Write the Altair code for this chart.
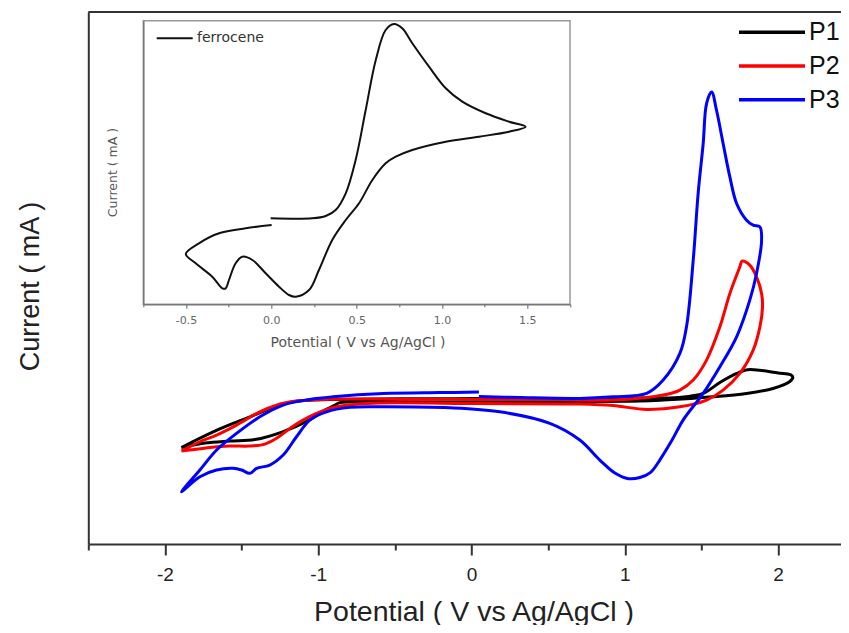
import altair as alt
import pandas as pd

# ---------------- data ----------------
series_names = ["P1", "P2", "P3"]
series_colors = ["#000000", "#ff0000", "#0000ff"]

p1_potential = [-1.893, -1.675, -1.446, -1.272, -1.164, -0.924, -0.468, 0.054, 0.576, 1.098, 1.35, 1.51, 1.62, 1.73,
                1.80, 1.88, 2.00, 2.08, 2.096, 2.074, 1.967, 1.794, 1.576, 1.250, 1.098, 0.576, 0.054, -0.468, -0.859,
                -0.885, -0.977, -1.060, -1.237, -1.413, -1.577, -1.740, -1.893]
p1_current = [-8.92, -5.82, -3.14, -1.13, -0.32, 0.09, 0.24, 0.28, 0.28, 0.38, 0.5, 1.26, 3.3, 5.0,
              5.7, 5.6, 5.1, 4.8, 4.3, 3.44, 2.19, 1.25, 0.62, 0.0, -0.19, -0.28, -0.38, -0.38, -0.47,
              -0.85, -2.25, -3.76, -6.01, -7.42, -7.70, -8.08, -8.92]

p2_potential = [-1.892, -1.772, -1.663, -1.533, -1.381, -1.272, -1.142, -0.968, -0.577, 0.054, 0.576, 0.924, 1.250,
                1.359, 1.446, 1.533, 1.620, 1.685, 1.750, 1.765, 1.815, 1.859, 1.892, 1.898, 1.881, 1.837, 1.750,
                1.641, 1.533, 1.359, 1.142, 0.924, 0.706, 0.054, -0.685, -0.881, -1.011, -1.099, -1.185, -1.272,
                -1.348, -1.446, -1.577, -1.707, -1.838, -1.892]
p2_current = [-9.58, -7.83, -6.58, -4.70, -2.20, -0.94, -0.19, 0.13, 0.19, 0.09, 0.09, 0.0, 0.94,
              1.88, 3.76, 7.51, 13.77, 20.05, 25.04, 26.11, 25.36, 23.16, 20.05, 17.53, 13.77, 9.39, 5.02,
              1.88, 0.0, -1.26, -1.75, -1.03, -0.75, -0.66, -0.62, -1.26, -2.50, -3.76, -5.32, -7.19,
              -8.27, -8.64, -8.64, -8.89, -9.39, -9.58]

p3_potential = [0.048, 0.315, 0.706, 0.924, 1.142, 1.250, 1.359, 1.402, 1.446, 1.478, 1.511, 1.533, 1.566, 1.598,
                1.641, 1.685, 1.729, 1.794, 1.837, 1.881, 1.892, 1.859, 1.815, 1.729, 1.620, 1.511, 1.380, 1.307,
                1.228, 1.166, 1.098, 1.024, 0.935, 0.837, 0.706, 0.511, 0.184, -0.142, -0.577, -0.794, -0.946,
                -1.055, -1.142, -1.229, -1.316, -1.402, -1.446, -1.500, -1.555, -1.663, -1.772, -1.892, -1.772,
                -1.663, -1.533, -1.381, -1.229, -1.055, -0.903, -0.577, -0.207, 0.048]
p3_current = [0.66, 0.47, 0.32, 0.62, 1.26, 3.76, 8.77, 13.77, 26.30, 38.83, 48.23, 55.74, 57.92, 54.48,
              48.23, 41.95, 36.95, 33.82, 32.88, 32.56, 30.06, 23.80, 18.79, 11.90, 6.26, 1.26, -3.76, -7.57,
              -11.27, -13.64, -14.56, -14.77, -13.71, -11.27, -7.51, -4.38, -2.20, -1.45, -1.26, -1.37, -2.20,
              -3.76, -6.89, -10.33, -12.21, -12.83, -13.77, -13.15, -12.83, -13.15, -14.41, -17.24, -13.15,
              -9.39, -6.26, -3.14, -0.94, 0.13, 0.62, 1.22, 1.41, 1.50]

fc_potential = [-0.004, 0.240, 0.319, 0.377, 0.436, 0.494, 0.553, 0.612, 0.670, 0.719, 0.767, 0.826, 0.924, 1.022,
                1.119, 1.256, 1.393, 1.490, 1.393, 1.217, 1.022, 0.826, 0.729, 0.670, 0.592, 0.514, 0.436, 0.357,
                0.279, 0.221, 0.143, 0.104, 0.045, -0.033, -0.111, -0.170, -0.209, -0.248, -0.267, -0.287, -0.346,
                -0.443, -0.501, -0.424, -0.306, -0.150, 0.002]
fc_current = [30.32, 30.32, 31.14, 33.25, 39.14, 50.88, 68.51, 86.14, 96.72, 98.84, 97.32, 92.03, 83.78, 76.16,
              71.44, 67.35, 64.39, 62.62, 60.86, 59.10, 57.33, 54.41, 52.05, 49.72, 43.83, 35.61, 29.72, 22.67,
              12.09, 5.04, 2.68, 3.28, 6.21, 10.93, 15.62, 16.78, 14.46, 8.57, 5.64, 5.64, 9.73, 14.46, 17.74,
              21.51, 25.04, 26.80, 27.96]

main_x_domain = [-2.5, 2.41]
main_y_domain = [-27.05, 72.95]
main_x_ticks = [-2.5, -2.0, -1.5, -1.0, -0.5, 0.0, 0.5, 1.0, 1.5, 2.0]
inset_x_domain = [-0.75, 1.75]
inset_y_domain = [0, 100]
inset_x_ticks = [-0.75, -0.5, -0.25, 0.0, 0.25, 0.5, 0.75, 1.0, 1.25, 1.5, 1.75]

# ---------------- tables ----------------
rows = []
for name, xs, ys in zip(series_names, [p1_potential, p2_potential, p3_potential],
                        [p1_current, p2_current, p3_current]):
    for i, (xv, yv) in enumerate(zip(xs, ys)):
        rows.append({"series": name, "potential": xv, "current": yv, "idx": i})
main_df = pd.DataFrame(rows)

inset_df = pd.DataFrame({"name": "ferrocene", "potential": fc_potential, "current": fc_current,
                         "idx": list(range(len(fc_potential)))})
frame_df = pd.DataFrame({"k": [0]})

MAIN_FONT = "Liberation Sans"
INSET_FONT = "DejaVu Sans"

# ---------------- main plot ----------------
main_x = alt.X("potential:Q",
               scale=alt.Scale(domain=main_x_domain, nice=False, zero=False),
               axis=alt.Axis(orient="bottom", values=main_x_ticks, grid=False,
                             labelExpr="datum.value % 1 === 0 ? ('' + datum.value) : ''",
                             tickSize={"condition": {"test": "datum.value % 1 === 0", "value": 11}, "value": 6},
                             tickColor="#333333", tickWidth=2, domainColor="#333333", domainWidth=2,
                             labelFont=MAIN_FONT, labelFontSize=19, labelColor="#222222", labelPadding=10,
                             labelOverlap=False, labelFlush=False,
                             title="Potential ( V vs Ag/AgCl )", titleFont=MAIN_FONT, titleFontSize=28.5,
                             titleFontWeight="normal", titleColor="#222222", titleX=385.2, titleY=76,
                             titleBaseline="alphabetic", titleAlign="center"))
main_y = alt.Y("current:Q",
               scale=alt.Scale(domain=main_y_domain, nice=False, zero=False),
               axis=alt.Axis(orient="left", ticks=False, labels=False, grid=False,
                             domainColor="#333333", domainWidth=2,
                             title="Current ( mA )", titleFont=MAIN_FONT, titleFontSize=27,
                             titleFontWeight="normal", titleColor="#222222", titleX=-58.2, titleY=274,
                             titleAngle=270, titleBaseline="middle", titleAlign="center"))

lines = alt.Chart(main_df).mark_line(strokeWidth=3, interpolate="catmull-rom", strokeJoin="round").encode(
    x=main_x,
    y=main_y,
    order=alt.Order("idx:Q"),
    color=alt.Color("series:N",
                    scale=alt.Scale(domain=series_names, range=series_colors),
                    legend=alt.Legend(orient="none", legendX=670.7, legendY=7.3, title=None, padding=0,
                                      symbolType="M-3,0L3,0", symbolSize=484, symbolStrokeWidth=3.5,
                                      labelFont=MAIN_FONT, labelFontSize=25, labelColor="#111111",
                                      labelOffset=24, rowPadding=7.7)),
)

top_frame = alt.Chart(frame_df).mark_rule(color="#333333", strokeWidth=2).encode(
    y=alt.Y(datum=main_y_domain[1])
)

main_layer = alt.layer(lines, top_frame)

# ---------------- inset ----------------
inset_x = alt.X("potential:Q",
                scale=alt.Scale(domain=inset_x_domain, range=[55, 481.7], nice=False, zero=False),
                axis=alt.Axis(orient="bottom", offset=-239.7, values=inset_x_ticks, grid=False, zindex=1,
                              labelExpr="(datum.value * 2) % 1 === 0 ? ((datum.value < 0 ? '-' : '') + format(abs(datum.value), '.1f')) : ''",
                              tickSize={"condition": {"test": "(datum.value * 2) % 1 === 0", "value": 4}, "value": 2.5},
                              tickColor="#777777", tickWidth=1.2, domainColor="#777777", domainWidth=1.5,
                              labelFont=INSET_FONT, labelFontSize=11, labelColor="#666666", labelPadding=6,
                              labelOverlap=False, labelFlush=False,
                              title="Potential ( V vs Ag/AgCl )", titleFont=INSET_FONT, titleFontSize=14,
                              titleFontWeight="normal", titleColor="#555555", titleX=269.2, titleY=41.7,
                              titleBaseline="alphabetic", titleAlign="center"))
inset_y = alt.Y("current:Q",
                scale=alt.Scale(domain=inset_y_domain, range=[292.3, 8.7], nice=False, zero=False),
                axis=alt.Axis(orient="left", offset=-55, ticks=False, labels=False, grid=False, zindex=1,
                              domainColor="#777777", domainWidth=1.5,
                              title="Current ( mA )", titleFont=INSET_FONT, titleFontSize=12.5,
                              titleFontWeight="normal", titleColor="#555555", titleX=-30.9, titleY=160,
                              titleAngle=270, titleBaseline="middle", titleAlign="center"))

inset_box = alt.Chart(frame_df).mark_rect(fill="white", stroke="#999999", strokeWidth=1.5).encode(
    x=alt.X(datum=inset_x_domain[0]),
    x2=alt.X2(datum=inset_x_domain[1]),
    y=alt.Y(datum=inset_y_domain[0]),
    y2=alt.Y2(datum=inset_y_domain[1]),
)

inset_line = alt.Chart(inset_df).mark_line(strokeWidth=2, interpolate="catmull-rom", strokeJoin="round").encode(
    x=inset_x,
    y=inset_y,
    order=alt.Order("idx:Q"),
    color=alt.Color("name:N",
                    scale=alt.Scale(domain=["ferrocene"], range=["#111111"]),
                    legend=alt.Legend(orient="none", legendX=79.4, legendY=19.3, title=None, padding=0,
                                      symbolType="M-3,0L3,0", symbolSize=144, symbolStrokeWidth=2,
                                      labelFont=INSET_FONT, labelFontSize=14, labelColor="#333333",
                                      labelOffset=15.3)),
)

inset_layer = alt.layer(inset_box, inset_line)

chart = alt.layer(main_layer, inset_layer).resolve_scale(
    x="independent", y="independent", color="independent"
).properties(
    width=752.7, height=532,
    padding={"left": 80.3, "top": 4, "right": 0, "bottom": 81},
    autosize=alt.AutoSizeParams(type="none"),
    background="white",
).configure_view(stroke="transparent")

chart.save("out.html", embed_options={"renderer": "svg", "actions": False})
